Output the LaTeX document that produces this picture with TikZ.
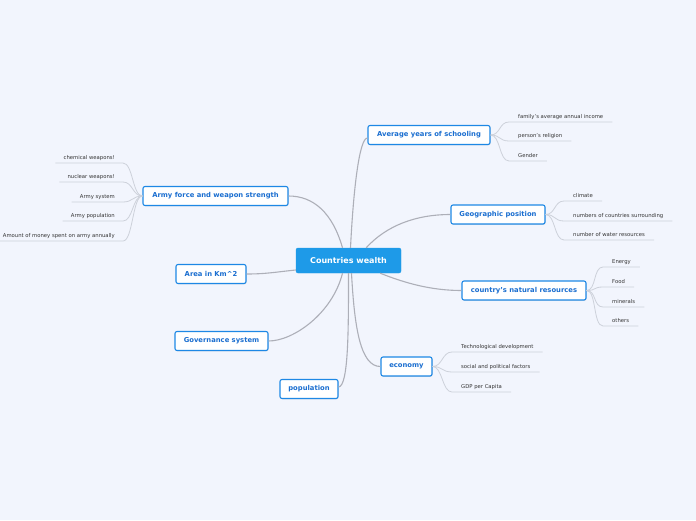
\documentclass[tikz,border=0pt]{standalone}
\usepackage{fontspec}
\setmainfont{DejaVu Sans}
\usetikzlibrary{shadows,calc}
\definecolor{bg}{HTML}{F2F5FD}
\definecolor{topicblue}{HTML}{1E88E5}
\definecolor{topictext}{HTML}{1A6ED0}
\definecolor{centerfill}{HTML}{1E9AE8}
\definecolor{mainline}{HTML}{ADAFB8}
\definecolor{leafline}{HTML}{CDD1DA}
\definecolor{leaftext}{HTML}{333333}
\tikzset{
 centerbox/.style={fill=centerfill, draw=centerfill, rounded corners=2pt, text=white, font=\fontsize{8}{9}\selectfont\bfseries, minimum height=25pt, minimum width=105pt, inner xsep=6pt},
 topic/.style={fill=white, draw=topicblue, line width=1.1pt, rounded corners=2pt, text=topictext, font=\fontsize{6.8}{8}\selectfont\bfseries, minimum height=19pt, inner xsep=4pt, drop shadow={opacity=0.2, shadow xshift=0.6pt, shadow yshift=-0.8pt}},
 leaf/.style={text=leaftext, font=\fontsize{5.3}{6}\selectfont, inner xsep=9pt, inner ysep=2.6pt, text depth=1.1pt},
 leafl/.style={leaf, inner xsep=8pt},
 mline/.style={draw=mainline, line width=1.1pt},
 lline/.style={draw=leafline, line width=0.8pt},
}
\begin{document}
\begin{tikzpicture}[x=1pt,y=-1pt]
\fill[bg] (0,0) rectangle (696,520);
\useasboundingbox (0,0) rectangle (696,520);

\node[centerbox] (c) at (348.5,260.5) {Countries wealth};

\node[topic, minimum width=122pt] (avg) at (429,135) {Average years of schooling};
\node[topic, minimum width=145pt] (army) at (215.5,196) {Army force and weapon strength};
\node[topic, minimum width=94pt] (geo) at (498,214.5) {Geographic position};
\node[topic, minimum width=124pt] (nat) at (524,290.5) {country's natural resources};
\node[topic, minimum width=51pt] (eco) at (406.5,366.5) {economy};
\node[topic, minimum width=70pt] (area) at (211,274) {Area in Km\^{}2};
\node[topic, minimum width=93pt] (gov) at (221.5,341) {Governance system};
\node[topic, minimum width=58pt] (pop) at (309,389) {population};

% main connectors
\draw[mline] ($(c.west)+(0,9.5)$) .. controls +(-20,2) and +(20,0) .. (area.east);
\draw[mline] ($(c.south)+(-6,0)$) .. controls +(-10,40) and +(25,0) .. (gov.east);
\draw[mline] (c.south) .. controls +(0,57) and +(10,-1) .. ($(pop.east)+(0,-2)$);
\draw[mline] ($(c.south)+(3,0)$) .. controls +(3,55) and +(-20,0) .. (eco.west);
\draw[mline] ($(c.south east)+(-21,0)$) .. controls +(25,10) and +(-30,0) .. (nat.west);
\draw[mline] ($(c.north east)+(-35,0)$) .. controls +(20,-22) and +(-35,0) .. (geo.west);
\draw[mline] ($(c.north)+(2,0)$) .. controls +(3,-60) and +(-8,0) .. ($(avg.west)+(0,3)$);
\draw[mline] ($(c.north)+(-6,0)$) .. controls +(-10,-35) and +(25,0) .. (army.east);

% average leaves
\node[leaf, anchor=south west] (a1) at (509,122) {family's average annual income};
\node[leaf, anchor=south west] (a2) at (509,141) {person's religion};
\node[leaf, anchor=south west] (a3) at (509,161) {Gender};
\foreach \l in {a1,a2,a3}
  \draw[lline] (avg.east) .. controls +(10,0) and +(-10,0) .. (\l.south west) -- (\l.south east);

% geographic leaves
\node[leaf, anchor=south west] (g1) at (564,201) {climate};
\node[leaf, anchor=south west] (g2) at (564,221) {numbers of countries surrounding};
\node[leaf, anchor=south west] (g3) at (564,240) {number of water resources};
\foreach \l in {g1,g2,g3}
  \draw[lline] (geo.east) .. controls +(10,0) and +(-10,0) .. (\l.south west) -- (\l.south east);

% natural leaves
\node[leaf, anchor=south west] (n1) at (603,267) {Energy};
\node[leaf, anchor=south west] (n2) at (603,287) {Food};
\node[leaf, anchor=south west] (n3) at (603,307) {minerals};
\node[leaf, anchor=south west] (n4) at (603,326) {others};
\foreach \l in {n1,n2,n3,n4}
  \draw[lline] (nat.east) .. controls +(10,0) and +(-10,0) .. (\l.south west) -- (\l.south east);

% economy leaves
\node[leaf, anchor=south west] (e1) at (452,352) {Technological development};
\node[leaf, anchor=south west] (e2) at (452,372) {social and political factors};
\node[leaf, anchor=south west] (e3) at (452,392) {GDP per Capita};
\foreach \l in {e1,e2,e3}
  \draw[lline] (eco.east) .. controls +(10,0) and +(-10,0) .. (\l.south west) -- (\l.south east);

% army leaves
\node[leafl, anchor=south east] (r1) at (123,163) {chemical weapons!};
\node[leafl, anchor=south east] (r2) at (123,182) {nuclear weapons!};
\node[leafl, anchor=south east] (r3) at (123,202) {Army system};
\node[leafl, anchor=south east] (r4) at (123,221) {Army population};
\node[leafl, anchor=south east] (r5) at (123,241) {Amount of money spent on army annually};
\foreach \l in {r1,r2,r3,r4,r5}
  \draw[lline] (army.west) .. controls +(-10,0) and +(10,0) .. (\l.south east) -- (\l.south west);
\end{tikzpicture}
\end{document}
